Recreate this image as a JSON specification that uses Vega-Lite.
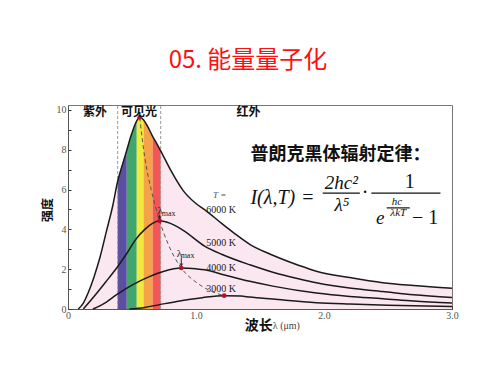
{
  "$schema": "https://vega.github.io/schema/vega-lite/v6.json",
  "width": 384,
  "height": 204,
  "autosize": {"type": "none"},
  "padding": {"left": 68, "top": 105, "right": 48, "bottom": 66},
  "background": "white",
  "view": {"stroke": "#777", "strokeWidth": 1},
  "title": {
    "text": "05. 能量量子化",
    "color": "#ff1010",
    "font": "Noto Sans CJK SC",
    "fontSize": 24,
    "fontWeight": "normal",
    "anchor": "middle",
    "frame": "group",
    "offset": 32,
    "dx": -12
  },
  "datasets": {
    "curves": [
      {"T": "6000 K", "x": 0.08, "y": 0},
      {"T": "6000 K", "x": 0.12, "y": 0.3},
      {"T": "6000 K", "x": 0.16, "y": 0.85},
      {"T": "6000 K", "x": 0.2, "y": 1.55},
      {"T": "6000 K", "x": 0.25, "y": 2.6},
      {"T": "6000 K", "x": 0.3, "y": 3.9},
      {"T": "6000 K", "x": 0.35, "y": 5.2},
      {"T": "6000 K", "x": 0.388, "y": 6.42},
      {"T": "6000 K", "x": 0.43, "y": 7.35},
      {"T": "6000 K", "x": 0.459, "y": 7.98},
      {"T": "6000 K", "x": 0.5, "y": 8.85},
      {"T": "6000 K", "x": 0.537, "y": 9.45},
      {"T": "6000 K", "x": 0.56, "y": 9.63},
      {"T": "6000 K", "x": 0.591, "y": 9.5},
      {"T": "6000 K", "x": 0.62, "y": 9.2},
      {"T": "6000 K", "x": 0.662, "y": 8.66},
      {"T": "6000 K", "x": 0.69, "y": 8.35},
      {"T": "6000 K", "x": 0.724, "y": 7.95},
      {"T": "6000 K", "x": 0.8, "y": 7.0},
      {"T": "6000 K", "x": 0.9, "y": 5.95},
      {"T": "6000 K", "x": 1.0, "y": 5.3},
      {"T": "6000 K", "x": 1.07, "y": 4.98},
      {"T": "6000 K", "x": 1.2, "y": 4.3},
      {"T": "6000 K", "x": 1.3, "y": 3.8},
      {"T": "6000 K", "x": 1.42, "y": 3.25},
      {"T": "6000 K", "x": 1.6, "y": 2.7},
      {"T": "6000 K", "x": 1.8, "y": 2.2},
      {"T": "6000 K", "x": 1.94, "y": 1.9},
      {"T": "6000 K", "x": 2.2, "y": 1.58},
      {"T": "6000 K", "x": 2.46, "y": 1.32},
      {"T": "6000 K", "x": 2.7, "y": 1.18},
      {"T": "6000 K", "x": 3.0, "y": 1.04},
      {"T": "5000 K", "x": 0.12, "y": 0},
      {"T": "5000 K", "x": 0.2, "y": 0.6},
      {"T": "5000 K", "x": 0.3, "y": 1.4},
      {"T": "5000 K", "x": 0.38, "y": 2.06},
      {"T": "5000 K", "x": 0.45, "y": 2.7},
      {"T": "5000 K", "x": 0.53, "y": 3.5},
      {"T": "5000 K", "x": 0.6, "y": 4.0},
      {"T": "5000 K", "x": 0.66, "y": 4.3},
      {"T": "5000 K", "x": 0.716, "y": 4.43},
      {"T": "5000 K", "x": 0.8, "y": 4.3},
      {"T": "5000 K", "x": 0.9, "y": 3.95},
      {"T": "5000 K", "x": 1.07, "y": 3.15},
      {"T": "5000 K", "x": 1.2, "y": 2.75},
      {"T": "5000 K", "x": 1.42, "y": 2.22},
      {"T": "5000 K", "x": 1.6, "y": 1.85},
      {"T": "5000 K", "x": 1.8, "y": 1.52},
      {"T": "5000 K", "x": 1.94, "y": 1.32},
      {"T": "5000 K", "x": 2.2, "y": 1.05},
      {"T": "5000 K", "x": 2.46, "y": 0.88},
      {"T": "5000 K", "x": 2.7, "y": 0.72},
      {"T": "5000 K", "x": 3.0, "y": 0.58},
      {"T": "4000 K", "x": 0.195, "y": 0},
      {"T": "4000 K", "x": 0.3, "y": 0.35},
      {"T": "4000 K", "x": 0.38, "y": 0.72},
      {"T": "4000 K", "x": 0.5, "y": 1.2},
      {"T": "4000 K", "x": 0.64, "y": 1.64},
      {"T": "4000 K", "x": 0.75, "y": 1.9},
      {"T": "4000 K", "x": 0.885, "y": 2.06},
      {"T": "4000 K", "x": 1.0, "y": 2.02},
      {"T": "4000 K", "x": 1.07, "y": 1.97},
      {"T": "4000 K", "x": 1.2, "y": 1.75},
      {"T": "4000 K", "x": 1.42, "y": 1.39},
      {"T": "4000 K", "x": 1.6, "y": 1.15},
      {"T": "4000 K", "x": 1.94, "y": 0.8},
      {"T": "4000 K", "x": 2.2, "y": 0.63},
      {"T": "4000 K", "x": 2.46, "y": 0.52},
      {"T": "4000 K", "x": 2.7, "y": 0.4},
      {"T": "4000 K", "x": 3.0, "y": 0.3},
      {"T": "3000 K", "x": 0.48, "y": 0},
      {"T": "3000 K", "x": 0.6, "y": 0.08},
      {"T": "3000 K", "x": 0.716, "y": 0.22},
      {"T": "3000 K", "x": 0.85, "y": 0.38},
      {"T": "3000 K", "x": 1.05, "y": 0.57},
      {"T": "3000 K", "x": 1.22, "y": 0.67},
      {"T": "3000 K", "x": 1.35, "y": 0.65},
      {"T": "3000 K", "x": 1.42, "y": 0.6},
      {"T": "3000 K", "x": 1.6, "y": 0.5},
      {"T": "3000 K", "x": 1.94, "y": 0.32},
      {"T": "3000 K", "x": 2.2, "y": 0.25},
      {"T": "3000 K", "x": 2.5, "y": 0.19},
      {"T": "3000 K", "x": 3.0, "y": 0.13}
    ],
    "bands": [
      {"band": "紫", "x": 0.388, "y": 6.42},
      {"band": "紫", "x": 0.43, "y": 7.35},
      {"band": "紫", "x": 0.459, "y": 7.98},
      {"band": "绿", "x": 0.459, "y": 7.98},
      {"band": "绿", "x": 0.5, "y": 8.85},
      {"band": "绿", "x": 0.537, "y": 9.45},
      {"band": "黄", "x": 0.537, "y": 9.45},
      {"band": "黄", "x": 0.56, "y": 9.63},
      {"band": "黄", "x": 0.591, "y": 9.5},
      {"band": "橙", "x": 0.591, "y": 9.5},
      {"band": "橙", "x": 0.62, "y": 9.2},
      {"band": "橙", "x": 0.662, "y": 8.66},
      {"band": "红", "x": 0.662, "y": 8.66},
      {"band": "红", "x": 0.69, "y": 8.35},
      {"band": "红", "x": 0.724, "y": 7.95}
    ],
    "peaks": [
      {"x": 0.56, "y": 9.63},
      {"x": 0.716, "y": 4.43},
      {"x": 0.885, "y": 2.06},
      {"x": 1.22, "y": 0.67}
    ],
    "peakline": [
      {"x": 0.56, "y": 9.63},
      {"x": 0.6, "y": 7.6},
      {"x": 0.65, "y": 6.0},
      {"x": 0.716, "y": 4.43},
      {"x": 0.78, "y": 3.3},
      {"x": 0.885, "y": 2.06},
      {"x": 1.0, "y": 1.35},
      {"x": 1.1, "y": 0.95},
      {"x": 1.22, "y": 0.67}
    ],
    "vlines": [
      {"x": 0.388, "y": 0, "y2": 10.25},
      {"x": 0.724, "y": 0, "y2": 10.25}
    ],
    "arrows": [
      {"x": 0.716, "y": 4.74, "y2": 4.52},
      {"x": 0.885, "y": 2.56, "y2": 2.16}
    ],
    "arrowheads": [
      {"x": 0.716, "y": 4.56},
      {"x": 0.885, "y": 2.2}
    ],
    "regions": [
      {"t": "紫外", "x": 0.21, "y": 9.92},
      {"t": "可见光", "x": 0.555, "y": 9.92},
      {"t": "红外", "x": 1.41, "y": 9.92}
    ],
    "tlabels": [
      {"t": "6000 K", "x": 1.08, "y": 4.98},
      {"t": "5000 K", "x": 1.08, "y": 3.31},
      {"t": "4000 K", "x": 1.08, "y": 2.06},
      {"t": "3000 K", "x": 1.08, "y": 1.02}
    ],
    "tequals": [{"t": "T =", "x": 1.185, "y": 5.72}],
    "lambdas": [
      {"t": "λ", "x": 0.70, "y": 4.93},
      {"t": "λ", "x": 0.85, "y": 2.77}
    ],
    "maxes": [
      {"t": "max", "x": 0.732, "y": 4.78},
      {"t": "max", "x": 0.88, "y": 2.64}
    ],
    "heading": [{"t": "普朗克黑体辐射定律：", "x": 1.425, "y": 7.74}],
    "flhs": [{"t": "I(λ,T)", "x": 1.425, "y": 5.57}],
    "fplain": [
      {"t": "=", "x": 1.875, "y": 5.57},
      {"t": "·", "x": 2.32, "y": 5.82},
      {"t": "1", "x": 2.67, "y": 6.4},
      {"t": "− 1", "x": 2.79, "y": 4.58}
    ],
    "fital": [
      {"t": "2hc²", "x": 2.135, "y": 6.32},
      {"t": "λ⁵", "x": 2.14, "y": 5.23},
      {"t": "e", "x": 2.44, "y": 4.58}
    ],
    "fsmall": [
      {"t": "hc", "x": 2.57, "y": 5.4},
      {"t": "λkT", "x": 2.58, "y": 4.83}
    ],
    "fbars": [
      {"x": 1.99, "x2": 2.28, "y": 5.82},
      {"x": 2.37, "x2": 2.91, "y": 5.82},
      {"x": 2.49, "x2": 2.67, "y": 5.08}
    ],
    "ytitle": [{"t": "强度", "x": -0.16, "y": 4.98}],
    "xtitle1": [{"t": "波长", "x": 1.38, "y": -0.84}],
    "xtitle2": [{"t": "λ (μm)", "x": 1.6, "y": -0.84}]
  },
  "encoding": {
    "x": {
      "field": "x",
      "type": "quantitative",
      "scale": {"domain": [0, 3], "nice": false, "zero": false},
      "axis": {
        "title": null,
        "grid": false,
        "values": [0, 0.1, 0.2, 0.3, 0.4, 0.5, 0.6, 0.7, 0.8, 0.9, 1, 1.1, 1.2, 1.3, 1.4, 1.5, 1.6, 1.7, 1.8, 1.9, 2, 2.1, 2.2, 2.3, 2.4, 2.5, 2.6, 2.7, 2.8, 2.9, 3],
        "labelExpr": "datum.value == 0 ? '0' : (datum.value == 1 || datum.value == 2 || datum.value == 3 ? format(datum.value, '.1f') : '')",
        "tickSize": -3,
        "tickColor": "#333",
        "domainColor": "#555",
        "labelFont": "Liberation Serif",
        "labelFontSize": 10,
        "labelColor": "#555",
        "labelPadding": 4,
        "labelFlush": false,
        "labelOverlap": false
      }
    },
    "y": {
      "field": "y",
      "type": "quantitative",
      "scale": {"domain": [0, 10.25], "nice": false, "zero": false},
      "axis": {
        "title": null,
        "grid": false,
        "values": [0, 1, 2, 3, 4, 5, 6, 7, 8, 9, 10],
        "labelExpr": "datum.value % 2 == 0 ? datum.label : ''",
        "tickSize": -3,
        "tickColor": "#333",
        "domainColor": "#555",
        "labelFont": "Liberation Serif",
        "labelFontSize": 10,
        "labelColor": "#555",
        "labelPadding": 5,
        "labelOverlap": false
      }
    }
  },
  "layer": [
    {
      "data": {"name": "curves"},
      "transform": [{"filter": "datum.T == '6000 K'"}],
      "mark": {"type": "area", "color": "#fbe7f0", "interpolate": "monotone"}
    },
    {
      "data": {"name": "bands"},
      "mark": {"type": "area", "interpolate": "monotone", "opacity": 1},
      "encoding": {
        "y": {"field": "y", "type": "quantitative", "stack": null},
        "color": {
          "field": "band",
          "type": "nominal",
          "scale": {"domain": ["紫", "绿", "黄", "橙", "红"], "range": ["#5b4fa2", "#3fa66c", "#f0ea3c", "#f6a24a", "#f25656"]},
          "legend": null
        }
      }
    },
    {
      "data": {"name": "vlines"},
      "mark": {"type": "rule", "color": "#999", "strokeDash": [3, 2], "strokeWidth": 1},
      "encoding": {"y2": {"field": "y2"}}
    },
    {
      "data": {"name": "curves"},
      "mark": {"type": "line", "color": "#1a1a1a", "strokeWidth": 1.5, "interpolate": "monotone"},
      "encoding": {"detail": {"field": "T"}}
    },
    {
      "data": {"name": "peakline"},
      "mark": {"type": "line", "color": "#555", "strokeWidth": 1, "strokeDash": [4, 3], "interpolate": "monotone"}
    },
    {
      "data": {"name": "arrows"},
      "mark": {"type": "rule", "color": "#222", "strokeWidth": 1},
      "encoding": {"y2": {"field": "y2"}}
    },
    {
      "data": {"name": "arrowheads"},
      "mark": {"type": "point", "shape": "triangle-down", "filled": true, "color": "#222", "size": 18}
    },
    {
      "data": {"name": "peaks"},
      "mark": {"type": "point", "shape": "circle", "filled": true, "color": "#b3122c", "size": 22, "opacity": 1}
    },
    {
      "data": {"name": "regions"},
      "mark": {"type": "text", "font": "Noto Sans CJK SC", "fontSize": 12, "fontWeight": "bold", "color": "#111", "align": "center", "baseline": "middle"},
      "encoding": {"text": {"field": "t"}}
    },
    {
      "data": {"name": "tlabels"},
      "mark": {"type": "text", "font": "Liberation Serif", "fontSize": 10, "color": "#222", "align": "left", "baseline": "middle"},
      "encoding": {"text": {"field": "t"}}
    },
    {
      "data": {"name": "tequals"},
      "mark": {"type": "text", "font": "Liberation Serif", "fontSize": 9, "fontStyle": "italic", "color": "#555", "align": "center", "baseline": "middle"},
      "encoding": {"text": {"field": "t"}}
    },
    {
      "data": {"name": "lambdas"},
      "mark": {"type": "text", "font": "Liberation Serif", "fontSize": 11, "color": "#222", "align": "left", "baseline": "middle"},
      "encoding": {"text": {"field": "t"}}
    },
    {
      "data": {"name": "maxes"},
      "mark": {"type": "text", "font": "Liberation Serif", "fontSize": 8, "color": "#222", "align": "left", "baseline": "middle"},
      "encoding": {"text": {"field": "t"}}
    },
    {
      "data": {"name": "heading"},
      "mark": {"type": "text", "font": "Noto Sans CJK SC", "fontSize": 18, "fontWeight": "bold", "color": "#111", "align": "left", "baseline": "middle"},
      "encoding": {"text": {"field": "t"}}
    },
    {
      "data": {"name": "flhs"},
      "mark": {"type": "text", "font": "Liberation Serif", "fontSize": 20, "fontStyle": "italic", "color": "#111", "align": "left", "baseline": "middle"},
      "encoding": {"text": {"field": "t"}}
    },
    {
      "data": {"name": "fplain"},
      "mark": {"type": "text", "font": "Liberation Serif", "fontSize": 20, "color": "#111", "align": "center", "baseline": "middle"},
      "encoding": {"text": {"field": "t"}}
    },
    {
      "data": {"name": "fital"},
      "mark": {"type": "text", "font": "Liberation Serif", "fontSize": 19, "fontStyle": "italic", "color": "#111", "align": "center", "baseline": "middle"},
      "encoding": {"text": {"field": "t"}}
    },
    {
      "data": {"name": "fsmall"},
      "mark": {"type": "text", "font": "Liberation Serif", "fontSize": 11, "fontStyle": "italic", "color": "#111", "align": "center", "baseline": "middle"},
      "encoding": {"text": {"field": "t"}}
    },
    {
      "data": {"name": "fbars"},
      "mark": {"type": "rule", "color": "#111", "strokeWidth": 1.2},
      "encoding": {"x2": {"field": "x2"}}
    },
    {
      "data": {"name": "ytitle"},
      "mark": {"type": "text", "font": "Noto Sans CJK SC", "fontSize": 12, "fontWeight": "bold", "color": "#111", "align": "center", "baseline": "middle", "angle": 270},
      "encoding": {"text": {"field": "t"}}
    },
    {
      "data": {"name": "xtitle1"},
      "mark": {"type": "text", "font": "Noto Sans CJK SC", "fontSize": 14, "fontWeight": "bold", "color": "#111", "align": "left", "baseline": "middle"},
      "encoding": {"text": {"field": "t"}}
    },
    {
      "data": {"name": "xtitle2"},
      "mark": {"type": "text", "font": "Liberation Serif", "fontSize": 10, "color": "#444", "align": "left", "baseline": "middle"},
      "encoding": {"text": {"field": "t"}}
    }
  ]
}
